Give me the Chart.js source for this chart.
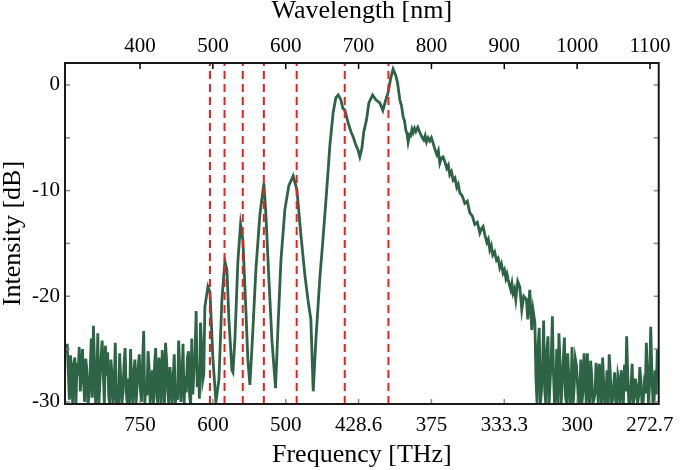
<!DOCTYPE html>
<html>
<head>
<meta charset="utf-8">
<script src="https://cdn.jsdelivr.net/npm/chart.js@4.4.0/dist/chart.umd.min.js"></script>
<style>
  html, body { margin: 0; padding: 0; background: #fff; }
</style>
</head>
<body>
<canvas id="spectre" width="685" height="470"></canvas>
<script>
// axes
const wavelengthTicks = [400, 500, 600, 700, 800, 900, 1000, 1100];
const frequencyLabels = ['750', '600', '500', '428.6', '375', '333.3', '300', '272.7'];
const intensityTicks = [-30, -25, -20, -15, -10, -5, 0];
const xMin = 297, xMax = 1112;
const yMin = -30.2, yMax = 2.08;

// red dashed markers (nm)
const markerNm = [496, 516, 541, 570, 615, 681, 741];

// spectrum: noise floor on the blue side
const blueNoiseNm = [
  300, 301.5, 303, 304.5, 306, 307.5, 309, 310.5, 312, 313.5,
  315, 316.5, 318, 319.5, 321, 322.5, 324, 325.5, 327, 328.5,
  330, 331.5, 333, 334.5, 336, 337.5, 339, 340.5, 342, 343.5,
  345, 346.5, 348, 349.5, 351, 352.5, 354, 355.5, 357, 358.5,
  360, 361.5, 363, 364.5, 366, 367.5, 369, 370.5, 372, 373.5,
  375, 376.5, 378, 379.5, 381, 382.5, 384, 385.5, 387, 388.5,
  390, 391.5, 393, 394.5, 396, 397.5, 399, 400.5, 402, 403.5,
  405, 406.5, 408, 409.5, 411, 412.5, 414, 415.5, 417, 418.5,
  420, 421.5, 423, 424.5, 426, 427.5, 429, 430.5, 432, 433.5,
  435, 436.5, 438, 439.5, 441, 442.5, 444, 445.5, 447, 448.5,
  450, 451.5, 453, 454.5, 456, 457.5, 459, 460.5, 462, 463.5,
  465, 466.5, 468, 469.5, 471, 472.5, 474, 475.5, 477, 478.5,
  480, 481.5, 483, 484.5, 486, 487.5, 489];
const blueNoiseDb = [
  -24.5, -27.2, -29.8, -25.6, -27, -30.2, -26.5, -25.8, -30.2, -26.3,
  -27.5, -24.8, -29, -26.9, -25, -28.2, -30, -25.9, -27, -30.2,
  -29.5, -27.3, -24, -29.6, -22.8, -26.4, -30.2, -28.8, -23.5, -30.2,
  -28, -25.9, -24.2, -27.1, -30.2, -24.7, -27.5, -25.3, -29.5, -30.2,
  -26, -27.4, -30.2, -28.6, -24.4, -30.2, -28.5, -30.2, -25.4, -27.9,
  -30.2, -29.1, -26.5, -24.9, -29, -30.2, -27.8, -30.2, -25, -28.1,
  -30.2, -27.2, -26, -30.2, -28.5, -26.6, -25.5, -28.9, -30, -26.2,
  -23.3, -30.2, -28.5, -29.4, -25.2, -26.8, -30.2, -28.3, -27, -30.2,
  -26.4, -24.9, -29.5, -30.2, -25.8, -27.7, -30.2, -25.1, -27.5, -30.2,
  -24.4, -26.1, -29, -30.2, -26.7, -28.0, -30.2, -27.6, -25.5, -30.2,
  -28.7, -29.8, -24.2, -26.9, -30, -27.8, -24.5, -30.2, -27.5, -29.1,
  -25.8, -25.2, -29.5, -30.2, -24, -29.3, -27, -25.5, -21.4, -28.6,
  -26.5, -29.7, -22.5, -24.6, -28, -27.4, -21];

// harmonic peaks and main band
const peaksNm = [493.2, 496, 500.1, 504.2, 508.3, 512.4, 516.5, 519.3, 522, 524, 526.1, 527.5, 530.2, 534.4, 538, 541.2,
  545.3, 548, 550.8, 554.9, 559, 564.5, 570, 572.8, 576.9, 581, 586, 589.2, 593.4, 598.8, 604.3, 610.2,
  615.3, 620.8, 626.3, 630.4, 634.5, 637.7, 641.4, 646.9, 651, 656, 660.6, 665.1, 668.8, 672, 675.7, 678.4,
  681.2, 685.3, 689.4, 692.5, 696.3, 699, 701.7, 704.5, 707.2, 710.9, 714.1, 719.2, 723.7, 729.2, 733.3, 737.4,
  740.2, 744.3, 747.4, 751.1, 753.5, 756.6, 759, 761.1, 763, 764.9, 766.5, 768, 770, 771.7, 773.3, 774.9,
  776.8, 778.6, 781.3, 784.1, 786.8, 789.5, 791.4, 793.3, 795.5, 797.8, 800, 802.3, 804.8, 807.4, 809.5, 811.5,
  813.8, 816, 818.6, 821.1, 823.2, 825.2, 827.5, 829.8, 832.3, 834.8, 836.8, 838.9, 842.3, 845.8, 849.2, 852.7,
  856.1, 859.5, 863, 866.4, 868.6, 870.9, 873.4, 876, 878, 880.1, 882.1, 884.2, 886.7, 889.3, 891.5, 893.8,
  896, 898.3, 900.2, 902.1, 903.7, 905.2, 907, 908.9, 910.5, 912.1, 914, 915.8, 918.5, 921.3, 924, 926.7,
  930.4, 932.2, 935, 937.7, 939.5];
const peaksDb = [-19.1, -19.6, -26.0, -30.0, -27.9, -20.3, -16.7, -17.5, -22.2, -24.5, -27.0, -27.2, -24.1, -16.6, -13.2, -14.7,
  -21.3, -26.0, -28.4, -23.2, -17.5, -12.3, -9.3, -12.3, -18.4, -24.1, -28.7, -23.2, -16.6, -11.8, -9.5, -8.6,
  -9.9, -14.2, -18.0, -20.3, -22.2, -29.0, -24.1, -18.2, -14.7, -10.2, -5.7, -2.6, -1.2, -0.95, -1.4, -2.2,
  -2.4, -3.5, -4.4, -4.9, -5.7, -6.1, -6.8, -6.0, -4.4, -3.3, -1.7, -0.95, -1.4, -1.7, -2.4, -1.4,
  -0.8, 0.7, 1.5, 0.9, 0.2, -1.4, -2.0, -3.0, -3.4, -4.3, -4.6, -5.4, -4.7, -4.8, -4.2, -4.5,
  -4.1, -4.4, -4.0, -4.5, -4.9, -5.2, -4.8, -5.4, -5.0, -5.3, -5.0, -5.5, -6.1, -6.6, -6.2, -7.4,
  -6.9, -6.8, -7.3, -7.9, -7.6, -8.5, -8.2, -9.0, -8.8, -9.7, -9.4, -10.2, -10.5, -11.2, -11.0, -12.1,
  -12.4, -13.2, -13.0, -14.0, -13.6, -13.4, -14.2, -14.9, -14.6, -15.6, -15.2, -16.1, -15.8, -16.6, -16.4, -17.3,
  -16.9, -17.8, -17.5, -18.3, -17.9, -18.4, -18.9, -19.4, -18.8, -19.7, -19.3, -20.3, -18.6, -19.1, -21.3, -20.0,
  -20.3, -22.2, -19.4, -23.2, -21.3];

// noise floor on the red side
const tailNm = [
  942, 943.5, 945, 946.5, 948, 949.5, 951, 952.5, 954, 955.5,
  957, 958.5, 960, 961.5, 963, 964.5, 966, 967.5, 969, 970.5,
  972, 973.5, 975, 976.5, 978, 979.5, 981, 982.5, 984, 985.5,
  987, 988.5, 990, 991.5, 993, 994.5, 996, 997.5, 999, 1000.5,
  1002, 1003.5, 1005, 1006.5, 1008, 1009.5, 1011, 1012.5, 1014, 1015.5,
  1017, 1018.5, 1020, 1021.5, 1023, 1024.5, 1026, 1027.5, 1029, 1030.5,
  1032, 1033.5, 1035, 1036.5, 1038, 1039.5, 1041, 1042.5, 1044, 1045.5,
  1047, 1048.5, 1050, 1051.5, 1053, 1054.5, 1056, 1057.5, 1059, 1060.5,
  1062, 1063.5, 1065, 1066.5, 1068, 1069.5, 1071, 1072.5, 1074, 1075.5,
  1077, 1078.5, 1080, 1081.5, 1083, 1084.5, 1086, 1087.5, 1089, 1090.5,
  1092, 1093.5, 1095, 1096.5, 1098, 1099.5, 1101, 1102.5, 1104, 1105.5,
  1107, 1108.5, 1110];
const tailDb = [
  -22.5, -27.8, -30.2, -24.6, -23, -30.2, -29, -26.7, -22.3, -28.9,
  -30.2, -25.1, -23.8, -30.2, -28, -25.7, -21.9, -27.3, -30.2, -29.1,
  -25, -30.2, -23.5, -26.2, -30.2, -28.4, -26, -23.9, -29.5, -30.2,
  -25.4, -27.6, -30.2, -29.4, -24.8, -30.2, -28.5, -25.9, -26.5, -28.2,
  -30.2, -29.6, -26, -30.2, -29, -25.4, -27.5, -30.2, -25.4, -28.7,
  -30.2, -26.1, -27.5, -30.2, -29.8, -29.2, -26.3, -27.9, -30.2, -26.4,
  -28, -30.2, -25.8, -28.3, -30.2, -29.5, -27, -30.2, -25.5, -27.3,
  -30.2, -29.9, -28.5, -27.2, -30, -30.2, -27.5, -28.1, -30.2, -27.0,
  -28.8, -30.2, -26.5, -29.0, -23.8, -27.5, -30.2, -30.2, -28.5, -26.4,
  -30.2, -29.6, -27.8, -28.6, -30.2, -29.4, -26.7, -27.9, -30.2, -30.2,
  -28.5, -29.2, -24.4, -27.4, -30.2, -28.3, -22.9, -26.8, -30, -30.2,
  -27, -29.3, -25];

const serif = '"Liberation Serif", "Times New Roman", serif';
Chart.defaults.font.family = serif;
Chart.defaults.color = '#000';

const spectrum = [];
[[blueNoiseNm, blueNoiseDb], [peaksNm, peaksDb], [tailNm, tailDb]].forEach(([xs, ys]) => {
  xs.forEach((x, i) => spectrum.push({ x: x, y: ys[i] }));
});

const markerSets = markerNm.map(nm => ({
  data: [{ x: nm, y: yMin }, { x: nm, y: yMax }],
  borderColor: '#f01e1e',
  borderWidth: 2,
  borderDash: [8, 5],
  pointRadius: 0,
  order: 1
}));

// box + inner tick marks like the original figure
const cadre = {
  id: 'cadre',
  afterDatasetsDraw(chart) {
    const { ctx, chartArea: a, scales } = chart;
    const seg = (x1, y1, x2, y2) => { ctx.beginPath(); ctx.moveTo(x1, y1); ctx.lineTo(x2, y2); ctx.stroke(); };
    ctx.save();
    ctx.lineWidth = 1.5;
    ctx.strokeStyle = '#000';
    wavelengthTicks.forEach(v => {
      const px = scales.x2.getPixelForValue(v);
      seg(px, a.top, px, a.top + 6);
    });
    ctx.strokeStyle = '#888';
    wavelengthTicks.forEach(v => {
      const px = scales.x.getPixelForValue(v);
      seg(px, a.bottom, px, a.bottom - 5);
    });
    intensityTicks.forEach(v => {
      const py = scales.y.getPixelForValue(v);
      seg(a.left, py, a.left + 5, py);
      seg(a.right, py, a.right - 5, py);
    });
    ctx.lineWidth = 2;
    ctx.strokeStyle = '#1a1a1a';
    ctx.strokeRect(a.left, a.top, a.right - a.left, a.bottom - a.top);
    ctx.restore();
  }
};

const tickFont = { family: serif, size: 21, lineHeight: 1 };
const titleFont = { family: serif, size: 26, lineHeight: 1 };

new Chart(document.getElementById('spectre').getContext('2d'), {
  type: 'line',
  data: {
    datasets: [
      ...markerSets,
      {
        label: 'Spectre',
        data: spectrum,
        borderColor: '#2e6446',
        borderWidth: 2.8,
        pointRadius: 0,
        tension: 0,
        fill: false,
        order: 2
      }
    ]
  },
  options: {
    responsive: false,
    animation: false,
    devicePixelRatio: 1,
    layout: { padding: { left: 0, right: 26, top: 0, bottom: 0 } },
    plugins: {
      legend: { display: false },
      tooltip: { enabled: false }
    },
    scales: {
      x: {
        type: 'linear',
        position: 'bottom',
        min: xMin,
        max: xMax,
        afterFit: s => { s.height = 66; },
        afterBuildTicks: s => { s.ticks = wavelengthTicks.map(v => ({ value: v })); },
        grid: { display: false, drawTicks: false },
        border: { display: false },
        ticks: {
          autoSkip: false, maxRotation: 0, padding: 11, font: tickFont,
          callback: (v, i) => frequencyLabels[i]
        },
        title: { display: true, text: 'Frequency [THz]', font: titleFont, padding: { top: 0, bottom: 2 } }
      },
      x2: {
        type: 'linear',
        position: 'top',
        min: xMin,
        max: xMax,
        afterFit: s => { s.height = 63; },
        afterBuildTicks: s => { s.ticks = wavelengthTicks.map(v => ({ value: v })); },
        grid: { display: false, drawTicks: false },
        border: { display: false },
        ticks: {
          autoSkip: false, maxRotation: 0, padding: 6, font: tickFont,
          callback: v => String(v)
        },
        title: { display: true, text: 'Wavelength [nm]', font: titleFont, padding: { top: -2, bottom: 0 } }
      },
      y: {
        type: 'linear',
        position: 'left',
        min: yMin,
        max: yMax,
        afterFit: s => { s.width = 65; },
        afterBuildTicks: s => { s.ticks = intensityTicks.map(v => ({ value: v })); },
        grid: { display: false, drawTicks: false },
        border: { display: false },
        ticks: {
          padding: 5, font: tickFont,
          callback: v => (v % 10 === 0 ? String(v) : '')
        },
        title: { display: true, text: 'Intensity [dB]', font: titleFont, padding: { top: 0, bottom: 0 } }
      }
    }
  },
  plugins: [cadre]
});
</script>
</body>
</html>
